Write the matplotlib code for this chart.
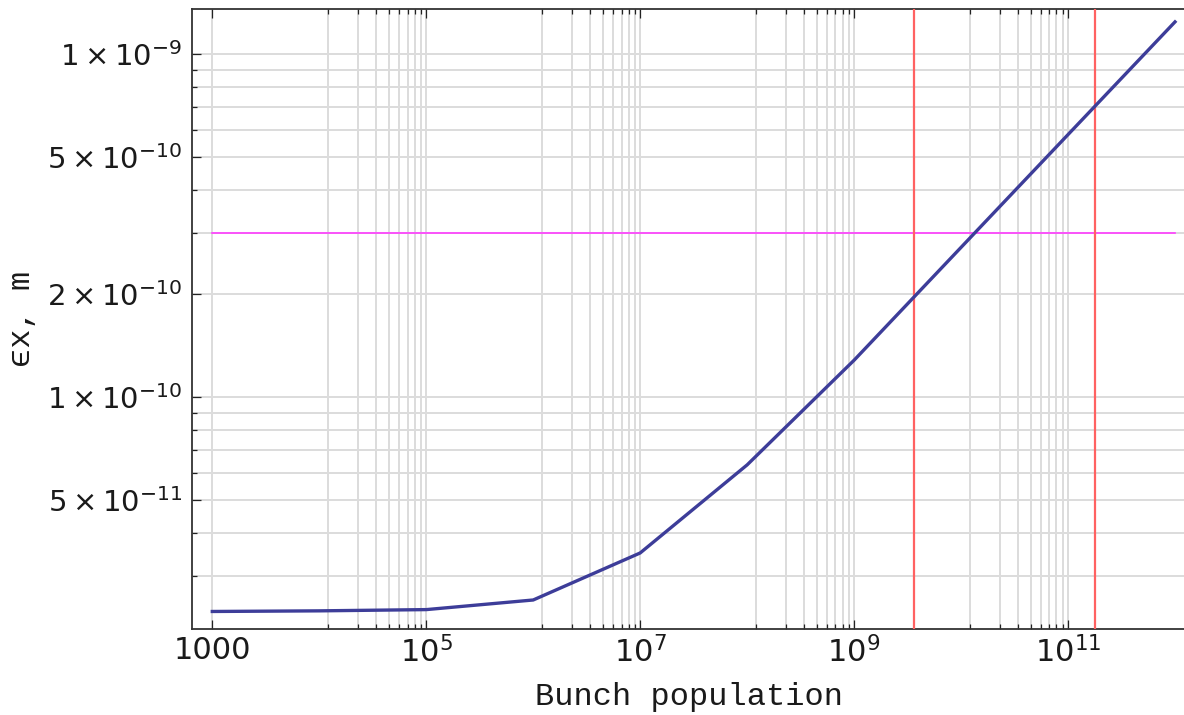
import numpy as np
import matplotlib
matplotlib.use("Agg")
import matplotlib.pyplot as plt
from matplotlib.ticker import FixedLocator, FixedFormatter, NullFormatter

# Data
bunch_population = [1e3, 1e4, 1e5, 1e6, 1e7, 1e8, 1e9, 1e10, 1e11, 1e12]
emittance_x = [2.37e-11, 2.38e-11, 2.40e-11, 2.56e-11, 3.51e-11,
               6.34e-11, 1.28e-10, 2.73e-10, 5.82e-10, 1.24e-9]
emittance_limit = 3e-10
population_marks = [3.6e9, 1.8e11]

x_major = [1e3, 1e5, 1e7, 1e9, 1e11]
x_major_labels = ["1000", r"$10^{5}$", r"$10^{7}$", r"$10^{9}$", r"$10^{11}$"]
y_major = [5e-11, 1e-10, 2e-10, 5e-10, 1e-9]
y_major_labels = [r"$5\times10^{-11}$", r"$1\times10^{-10}$", r"$2\times10^{-10}$",
                  r"$5\times10^{-10}$", r"$1\times10^{-9}$"]
y_minor = [3e-11, 4e-11, 6e-11, 7e-11, 8e-11, 9e-11,
           3e-10, 4e-10, 6e-10, 7e-10, 8e-10, 9e-10]

# Mathematica-style minor ticks: linear steps inside each two-decade span
x_minor = []
for lo, hi in zip(x_major[:-1], x_major[1:]):
    x_minor += list(np.linspace(lo, hi, 10)[1:-1])

mono = ["Liberation Mono", "DejaVu Sans Mono"]

fig = plt.figure(figsize=(11.84, 7.15), dpi=100)
ax = fig.add_axes([192 / 1184, 86 / 715, 994 / 1184, 620 / 715])
ax.set_xscale("log")
ax.set_yscale("log")

ax.plot([bunch_population[0], bunch_population[-1]], [emittance_limit] * 2,
        color="#ff3cff", lw=1.2, zorder=3)
for xm in population_marks:
    ax.axvline(xm, color="#ff6262", lw=1.6, zorder=4)
ax.plot(bunch_population, emittance_x, color="#3d3d99", lw=2.4, zorder=5)

ax.set_xlim(646, 1.267e12)
ax.set_ylim(2.107e-11, 1.352e-9)

ax.xaxis.set_major_locator(FixedLocator(x_major))
ax.xaxis.set_major_formatter(FixedFormatter(x_major_labels))
ax.xaxis.set_minor_locator(FixedLocator(x_minor))
ax.xaxis.set_minor_formatter(NullFormatter())
ax.yaxis.set_major_locator(FixedLocator(y_major))
ax.yaxis.set_major_formatter(FixedFormatter(y_major_labels))
ax.yaxis.set_minor_locator(FixedLocator(y_minor))
ax.yaxis.set_minor_formatter(NullFormatter())

ax.grid(which="both", color="#dcdcdc", lw=1.4, zorder=0)
ax.set_axisbelow(True)
ax.tick_params(which="both", direction="in", top=True, right=False,
               width=0.9, color="#222222", labelcolor="#1a1a1a")
ax.tick_params(which="major", length=6.5, pad=7)
ax.tick_params(which="minor", length=3.6)
ax.tick_params(axis="x", labelsize=22, pad=5)
ax.tick_params(axis="y", labelsize=21)
for s in ax.spines.values():
    s.set_linewidth(1.3)
    s.set_color("#333333")

ax.set_xlabel("Bunch population", family=mono, fontsize=23, color="#1a1a1a",
              va="center", ha="center")
ax.set_ylabel("\u03f5x, m", family=mono, fontsize=23, color="#1a1a1a",
              va="center", ha="center")
ax.xaxis.set_label_coords(0.5, -0.11)
ax.yaxis.set_label_coords(-0.171, 0.5)

fig.savefig("out.png", dpi=100)
